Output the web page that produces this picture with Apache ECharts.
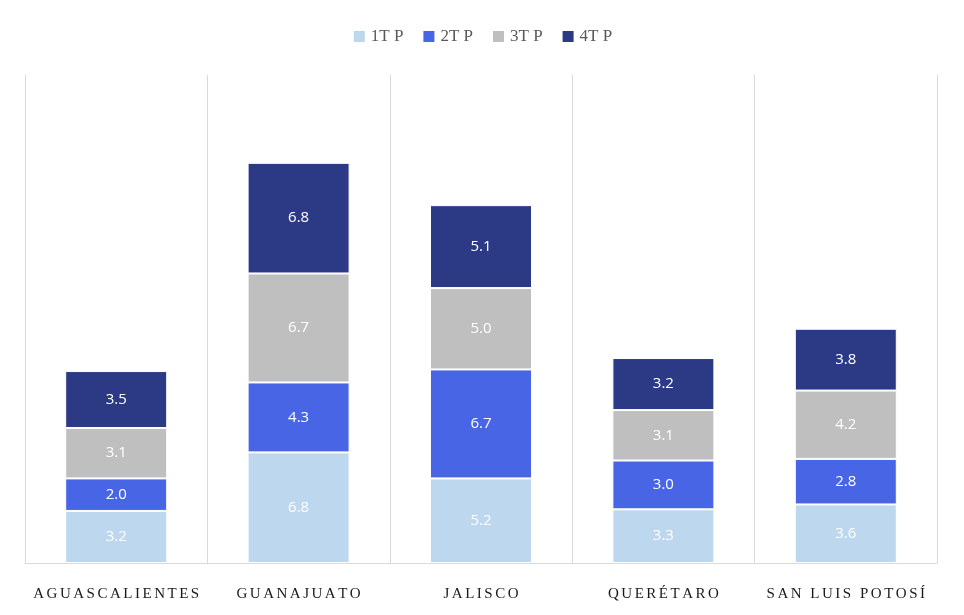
<!DOCTYPE html>
<html><head><meta charset="utf-8">
<script src="https://cdn.jsdelivr.net/npm/echarts@6/dist/echarts.min.js"></script>
<style>html,body{margin:0;padding:0;background:#fff}#c{width:964px;height:615px}</style>
</head><body><div id="c"></div>
<script>
const categories = ["AGUASCALIENTES","GUANAJUATO","JALISCO","QUERÉTARO","SAN LUIS POTOSÍ"];
const seriesNames = ["1T P","2T P","3T P","4T P"];
const t1 = [3.2, 6.8, 5.2, 3.3, 3.6];
const t2 = [2.0, 4.3, 6.7, 3.0, 2.8];
const t3 = [3.1, 6.7, 5.0, 3.1, 4.2];
const t4 = [3.5, 6.8, 5.1, 3.2, 3.8];
const colors = ["#BDD7EE","#4865E6","#BFBFBF","#2C3A86"];
const values = [t1,t2,t3,t4];
const chart = echarts.init(document.getElementById('c'));
chart.setOption({
  animation:false,
  color: colors,
  legend:{top:23,left:'center',itemWidth:13,itemHeight:13,itemGap:18,icon:'rect',
    textStyle:{fontFamily:'Liberation Serif',fontSize:17,color:'#595959'}},
  grid:{left:25,right:27,top:75,bottom:52},
  xAxis:{type:'category',data:categories,
    axisLine:{lineStyle:{color:'#d9d9d9'}},axisTick:{show:false},
    splitLine:{show:true,interval:0,lineStyle:{color:'#d9d9d9'}},
    axisLabel:{interval:0,hideOverlap:false,margin:24,fontFamily:'Liberation Serif',fontSize:15,color:'#1a1a1a',
      formatter:v=>v.split('').join('\u200A\u200A')}},
  yAxis:{type:'value',min:0,max:30,show:false,splitLine:{show:false}},
  series: values.map((d,i)=>({name:seriesNames[i],type:'bar',stack:'a',data:d,barWidth:102,
    itemStyle:{borderColor:'#fff',borderWidth:1},
    label:{show:true,position:'inside',color:'#fff',fontFamily:'Open Sans',fontSize:15,
      formatter:p=>p.value.toFixed(1)}}))
});
</script></body></html>
